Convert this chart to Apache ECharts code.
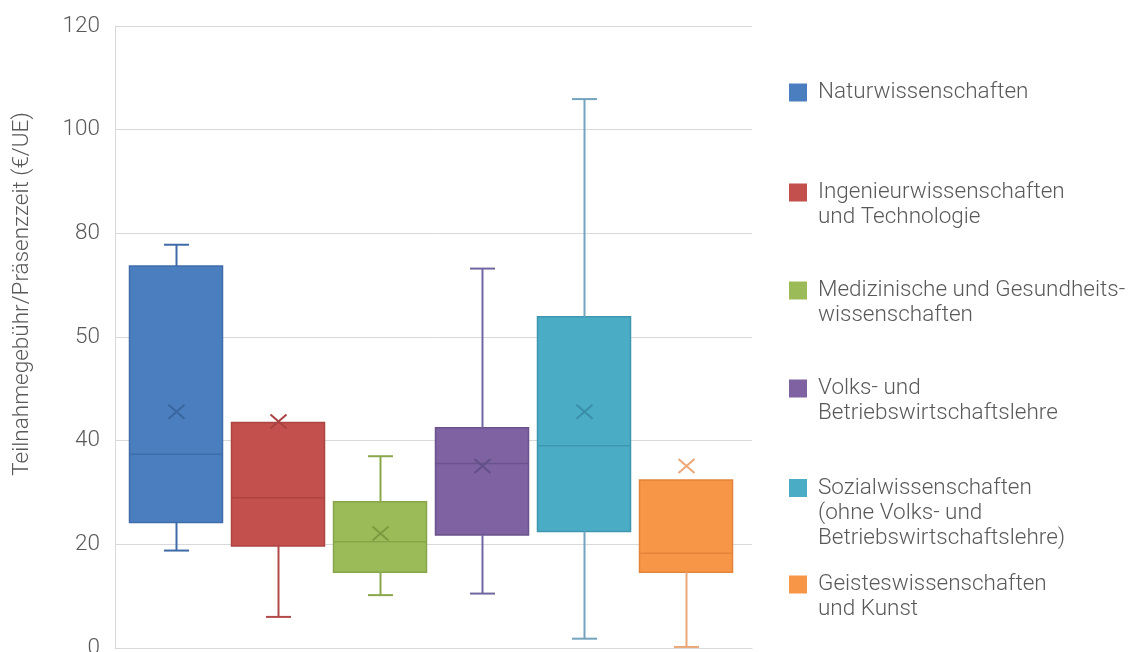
<!DOCTYPE html>
<html>
<head>
<meta charset="utf-8">
<script src="https://cdn.jsdelivr.net/npm/echarts@6/dist/echarts.min.js"></script>
<style>html,body{margin:0;padding:0;background:#fff;}#c{width:1130px;height:652px;}</style>
</head>
<body>
<div id="c"></div>
<script>
const categories = [
  'Naturwissenschaften',
  'Ingenieurwissenschaften\nund Technologie',
  'Medizinische und Gesundheits-\nwissenschaften',
  'Volks- und\nBetriebswirtschaftslehre',
  'Sozialwissenschaften\n(ohne Volks- und\nBetriebswirtschaftslehre)',
  'Geisteswissenschaften\nund Kunst'
];
const minValues    = [18.8,  6.0, 10.2, 10.5,   1.8,  0.2];
const q1Values     = [24.2, 19.7, 14.6, 21.8,  22.5, 14.6];
const medianValues = [37.4, 29.0, 20.5, 35.6,  39.0, 18.3];
const q3Values     = [73.7, 43.5, 28.2, 42.5,  63.9, 32.4];
const maxValues    = [77.8, 43.5, 37.0, 73.2, 105.9, 32.4];
const meanValues   = [45.6, 43.7, 22.1, 35.1,  45.6, 35.1];
const yTickLabels  = ['0', '20', '40', '50', '80', '100', '120'];
const yAxisTitle   = 'Teilnahmegebühr/Präsenzzeit (€/UE)';

const fillColors    = ['#4A7EBF', '#C4504D', '#9BBB59', '#7E62A1', '#4BACC6', '#F79646'];
const borderColors  = ['#3F6DAA', '#AC4441', '#87A64A', '#6A538C', '#3E97AF', '#E2843B'];
const whiskerColors = ['#3E6BA8', '#B04A48', '#8AA84B', '#7266A0', '#73A3BE', '#EBA877'];
const meanColors    = ['#3A66A0', '#A84240', '#7E9A40', '#62508A', '#3A8FA8', '#EDA77A'];

const FONT = 'Roboto, "Noto Sans", sans-serif';
const FS = 22.5;
const TEXT = '#595959';
const GRIDC = '#d9d9d9';

const chart = echarts.init(document.getElementById('c'), null, {renderer: 'canvas'});

const legendTops = [80, 180, 278, 376, 475.5, 572];
const legends = categories.map((name, i) => {
  const n = name.split('\n').length;
  const h = 25 * n - 7;
  return {
    data: [name],
    left: 789,
    top: legendTops[i],
    padding: 0,
    orient: 'vertical',
    itemWidth: 24,
    itemHeight: h,
    icon: 'path://M0,0L18,0L18,18L0,18Z M24,' + h,
    selectedMode: false,
    textStyle: {fontFamily: FONT, fontSize: FS, fontWeight: 300, color: TEXT, lineHeight: 25}
  };
});

const option = {
  backgroundColor: '#fff',
  animation: false,
  grid: [
    {left: 115, right: 378, top: 26, bottom: 4, containLabel: false, outerBoundsMode: 'none'},
    {left: 125, right: 393, top: 26, bottom: 4, containLabel: false, outerBoundsMode: 'none'}
  ],
  xAxis: [
    {gridIndex: 0, type: 'category', data: [''], axisLine: {show: true, lineStyle: {color: GRIDC, width: 1}},
     axisTick: {show: false}, axisLabel: {show: false}, splitLine: {show: false}},
    {gridIndex: 1, type: 'category', data: categories, show: false}
  ],
  yAxis: [
    {gridIndex: 0, type: 'value', min: 0, max: 120, interval: 20,
     axisLine: {show: true, lineStyle: {color: GRIDC, width: 1}},
     axisTick: {show: false},
     splitLine: {show: true, lineStyle: {color: GRIDC, width: 1}},
     axisLabel: {margin: 15, fontFamily: FONT, fontSize: FS, fontWeight: 300, color: TEXT,
       formatter: v => yTickLabels[Math.round(v / 20)]}},
    {gridIndex: 1, type: 'value', min: 0, max: 120, interval: 20, show: false, splitLine: {show: false}}
  ],
  legend: legends,
  graphic: [{
    type: 'text', x: 22, y: 294, rotation: Math.PI / 2,
    style: {text: yAxisTitle, fontFamily: FONT, fontSize: FS, fontWeight: 300, fill: TEXT,
            textAlign: 'center', textVerticalAlign: 'middle'}
  }],
  series: [
    {
      type: 'boxplot', xAxisIndex: 1, yAxisIndex: 1, z: 2,
      boxWidth: [93, 93],
      data: categories.map((c, i) => ({
        value: [q1Values[i], q1Values[i], medianValues[i], q3Values[i], q3Values[i]],
        itemStyle: {color: fillColors[i], borderColor: borderColors[i], borderWidth: 1.5}
      }))
    },
    {
      type: 'custom', xAxisIndex: 1, yAxisIndex: 1, z: 3,
      encode: {x: 0, y: [1, 2, 3, 4, 5]},
      data: categories.map((c, i) => [i, q1Values[i], minValues[i], q3Values[i], maxValues[i], meanValues[i]]),
      renderItem: function (params, api) {
        const i = api.value(0);
        const q1 = api.coord([i, api.value(1)]);
        const mn = api.coord([i, api.value(2)]);
        const q3 = api.coord([i, api.value(3)]);
        const mx = api.coord([i, api.value(4)]);
        const me = api.coord([i, api.value(5)]);
        const cx = Math.round(q1[0]) + 0.5;
        const cap = 12.5;
        const ws = {stroke: whiskerColors[i], lineWidth: 2};
        const children = [];
        if (api.value(2) < api.value(1)) {
          children.push({type: 'line', shape: {x1: cx, y1: q1[1], x2: cx, y2: mn[1]}, style: ws});
          children.push({type: 'line', shape: {x1: cx - cap, y1: mn[1], x2: cx + cap, y2: mn[1]}, style: ws});
        }
        if (api.value(4) > api.value(3)) {
          children.push({type: 'line', shape: {x1: cx, y1: q3[1], x2: cx, y2: mx[1]}, style: ws});
          children.push({type: 'line', shape: {x1: cx - cap, y1: mx[1], x2: cx + cap, y2: mx[1]}, style: ws});
        }
        const ms = {stroke: meanColors[i], lineWidth: 2};
        const hw = 8, hh = 7;
        children.push({type: 'line', shape: {x1: cx - hw, y1: me[1] - hh, x2: cx + hw, y2: me[1] + hh}, style: ms});
        children.push({type: 'line', shape: {x1: cx - hw, y1: me[1] + hh, x2: cx + hw, y2: me[1] - hh}, style: ms});
        return {type: 'group', children: children};
      }
    }
  ].concat(categories.map((name, i) => ({
    type: 'bar', name: name, xAxisIndex: 1, yAxisIndex: 1, data: [],
    itemStyle: {color: fillColors[i]}
  })))
};
chart.setOption(option);
</script>
</body>
</html>
